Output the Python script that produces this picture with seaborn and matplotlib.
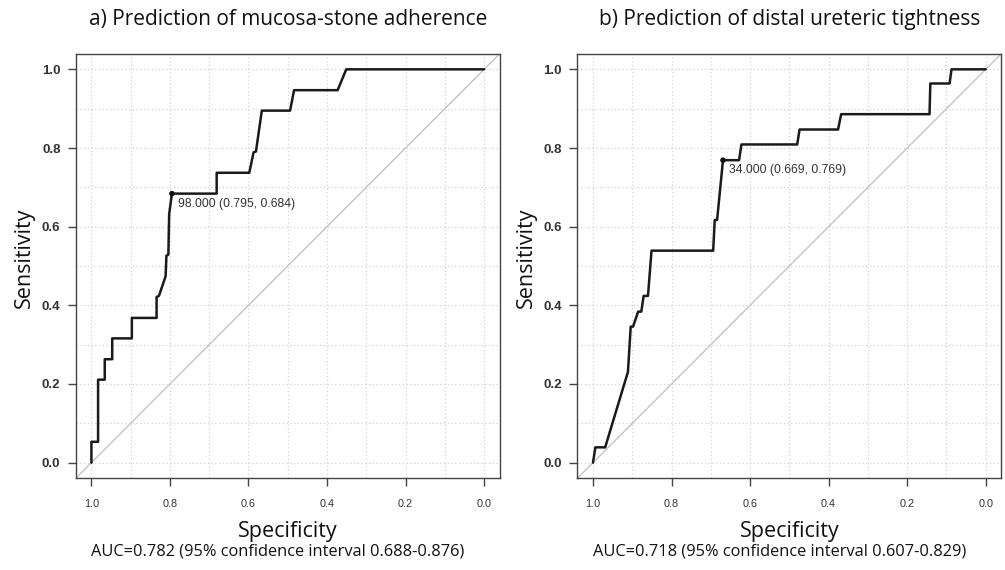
import numpy as np
import pandas as pd
import matplotlib
matplotlib.use("Agg")
import matplotlib.pyplot as plt
import seaborn as sns

# ---- data ----
spec_a = [1.0, 1.0, 0.983, 0.983, 0.966, 0.966, 0.947, 0.947, 0.897, 0.897, 0.834, 0.834,
          0.828, 0.811, 0.809, 0.804, 0.802, 0.795, 0.681, 0.681, 0.598, 0.587, 0.581, 0.566,
          0.494, 0.484, 0.373, 0.351, 0.0]
sens_a = [0.0, 0.053, 0.053, 0.211, 0.211, 0.263, 0.263, 0.316, 0.316, 0.368, 0.368, 0.421,
          0.424, 0.474, 0.526, 0.529, 0.632, 0.684, 0.684, 0.737, 0.737, 0.789, 0.791, 0.895,
          0.895, 0.947, 0.947, 1.0, 1.0]
best_a = (0.795, 0.684)
label_a = "98.000 (0.795, 0.684)"
title_a = "a) Prediction of mucosa-stone adherence"
auc_a = "AUC=0.782 (95% confidence interval 0.688-0.876)"

spec_b = [1.0, 0.994, 0.969, 0.911, 0.904, 0.898, 0.885, 0.877, 0.871, 0.860, 0.851, 0.694,
          0.690, 0.684, 0.669, 0.628, 0.622, 0.480, 0.474, 0.376, 0.368, 0.143, 0.141, 0.092,
          0.087, 0.0]
sens_b = [0.0, 0.039, 0.039, 0.231, 0.346, 0.346, 0.384, 0.384, 0.424, 0.424, 0.539, 0.539,
          0.617, 0.617, 0.769, 0.769, 0.809, 0.809, 0.847, 0.847, 0.886, 0.886, 0.964, 0.964,
          1.0, 1.0]
best_b = (0.669, 0.769)
label_b = "34.000 (0.669, 0.769)"
title_b = "b) Prediction of distal ureteric tightness"
auc_b = "AUC=0.718 (95% confidence interval 0.607-0.829)"

ticks = [0.0, 0.2, 0.4, 0.6, 0.8, 1.0]
tick_labels = ["0.0", "0.2", "0.4", "0.6", "0.8", "1.0"]

# ---- style ----
sns.set_theme(style="white")
plt.rcParams['font.family'] = ['Liberation Sans', 'DejaVu Sans']
label_font = ['Open Sans', 'DejaVu Sans']

W, H = 1005, 570
fig = plt.figure(figsize=(W / 100, H / 100), dpi=100)

def px_axes(left, top, width, height):
    return fig.add_axes([left / W, 1 - (top + height) / H, width / W, height / H])

panels = [
    (75.7, spec_a, sens_a, best_a, label_a, title_a, auc_a),
    (577.3, spec_b, sens_b, best_b, label_b, title_b, auc_b),
]

for left, spec, sens, best, lab, title, auc in panels:
    ax = px_axes(left, 53.6, 424.1, 424.8)
    ax.set_xlim(1.04, -0.04)
    ax.set_ylim(-0.04, 1.04)
    grid = np.round(np.arange(0, 1.01, 0.1), 2)
    ax.set_xticks(grid, minor=True)
    ax.set_yticks(grid, minor=True)
    ax.grid(True, which="both", linestyle=(0, (1, 2)), color="#d2d2d2", linewidth=0.9, zorder=0)
    ax.set_axisbelow(True)
    ax.axline((0, 1), (1, 0), color="#c4c4c4", linewidth=1.0, zorder=1)

    df = pd.DataFrame({"Specificity": spec, "Sensitivity": sens})
    sns.lineplot(data=df, x="Specificity", y="Sensitivity", sort=False, estimator=None,
                 color="#1a1a1a", linewidth=1.8, ax=ax, zorder=3)
    bdf = pd.DataFrame({"Specificity": [best[0]], "Sensitivity": [best[1]]})
    sns.scatterplot(data=bdf, x="Specificity", y="Sensitivity", color="#111111", s=16,
                    edgecolor="none", ax=ax, zorder=4)
    ax.annotate(lab, xy=best, xytext=(4.5, -3), textcoords="offset points",
                ha="left", va="top", fontsize=8.8, color="#333333")

    ax.set_xticks(ticks)
    ax.set_xticklabels(tick_labels, fontsize=7.8, color="#333333")
    ax.set_yticks(ticks)
    ax.set_yticklabels(tick_labels, fontsize=9.5, color="#333333", fontweight="bold")
    ax.tick_params(axis="x", which="major", direction="out", length=6, width=1, color="#444444", pad=9, bottom=True)
    ax.tick_params(axis="y", which="major", direction="out", length=6, width=1, color="#444444", pad=5, left=True)
    ax.tick_params(which="minor", length=0)
    ax.set_xlabel("")
    ax.set_ylabel("")
    for s in ax.spines.values():
        s.set_color("#444444")
        s.set_linewidth(1.0)

    cx = (left + 424.1 / 2) / W
    fig.text(cx, 1 - 20 / H, title, ha="center", va="center", fontsize=15, family=label_font, color="#111111")
    fig.text(cx, 1 - 532 / H, "Specificity", ha="center", va="center", fontsize=15.5, family=label_font, color="#111111")
    fig.text(cx - 10 / W, 1 - 552 / H, auc, ha="center", va="center", fontsize=11.8, family=label_font, color="#111111")
    fig.text((left - 51) / W, 1 - 258 / H, "Sensitivity", ha="center", va="center", rotation=90,
             fontsize=15.5, family=label_font, color="#111111")

fig.savefig("out.png", dpi=100)
